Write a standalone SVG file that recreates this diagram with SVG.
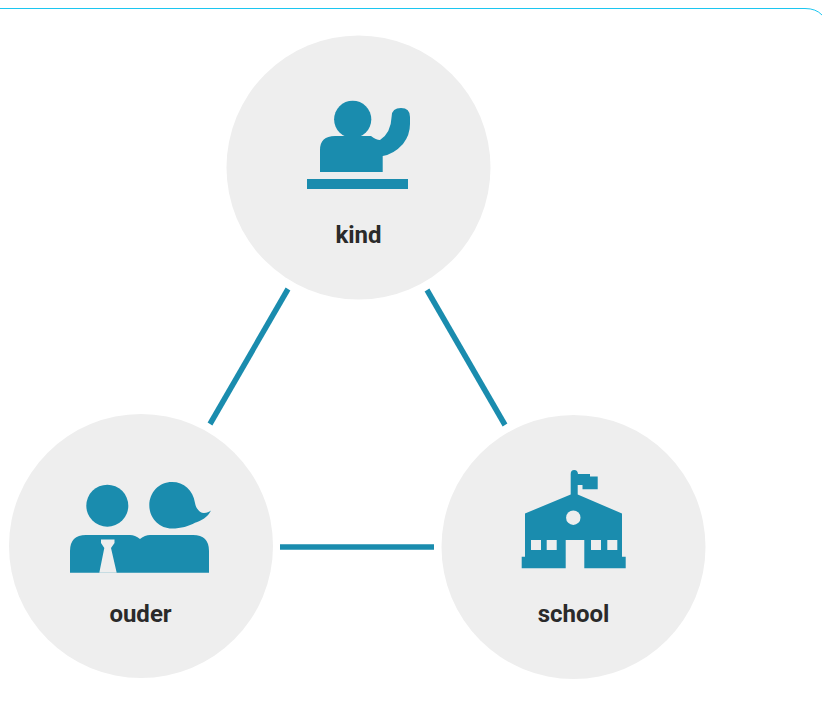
<svg xmlns="http://www.w3.org/2000/svg" width="822" height="701" viewBox="0 0 822 701">
<style>
.bubble{fill:#eeeeee}
.icon{fill:#1a8cae}
.hole{fill:#eeeeee}
.label{font-family:Roboto,"Liberation Sans",sans-serif;font-weight:700;font-size:24px;fill:#2a2a2a;text-anchor:middle}
.link{stroke:#1a8cae;stroke-width:5.500;fill:none}
</style>
<rect width="822" height="701" fill="#ffffff"/>
<path d="M0 8.500H805Q816 8.500 822 15" fill="none" stroke="#1cc6f0" stroke-width="1"/>
<g id="connectors">
<line class="link" x1="288" y1="289" x2="210" y2="424"/>
<line class="link" x1="427" y1="290" x2="505" y2="425"/>
<line class="link" x1="280" y1="547" x2="434" y2="547"/>
</g>
<g id="node-kind">
<circle class="bubble" cx="358.500" cy="167.500" r="132"/>
<circle class="icon" cx="352.700" cy="119.300" r="18.600"/>
<path class="icon" d="M320 172V150Q320 136 335 136H371Q376 140 380 140Q391 133 391.700 116Q392 108 401 108Q410 108 410 117V124Q410 135 403 144Q394 154 382.700 156V172Z"/>
<rect class="icon" x="307" y="179" width="101" height="10"/>
<text class="label" x="358.500" y="243">kind</text>
</g>
<g id="node-ouder">
<circle class="bubble" cx="141" cy="546" r="132"/>
<circle class="icon" cx="107.300" cy="505.700" r="21"/>
<path class="icon" d="M172 482C184 482 193 490 195 503C196 509 200 513 204 513C207 513 209 512 211 510.500C208 517 201 521 195 522.700C189 526 181 528.500 172 528.500C159 528.500 149.300 518 149.300 505.300C149.300 492.500 159 482 172 482Z"/>
<path class="icon" fill-rule="evenodd" d="M70 572.700V551Q70 535 86 535H130Q135 535 140 539Q145 535 150 535H193Q209 535 209 551V572.700Z"/>
<path class="hole" d="M101 539.500H114.500V543L111 548L116.700 572.700H99.300L104.300 548L101 543Z"/>
<text class="label" x="140.500" y="622">ouder</text>
</g>
<g id="node-school">
<circle class="bubble" cx="573.500" cy="547" r="132"/>
<path class="icon" fill-rule="evenodd" d="M570.700 494.500V474Q570.700 470 574.200 470Q577.700 470 578 474H590V476.500H597.700V489.300H582.500V485H577.700V494.500L622 513.500V556.700H625.700V568.300H584.300V540H565.700V568.300H521.700V556.700H525V513.500Z"/>
<circle class="hole" cx="573.300" cy="517.700" r="7.200"/>
<rect class="hole" x="531" y="540" width="10" height="10"/>
<rect class="hole" x="546.700" y="540" width="10" height="10"/>
<rect class="hole" x="591" y="540" width="10" height="10"/>
<rect class="hole" x="607.300" y="540" width="10" height="10"/>
<text class="label" x="573.500" y="622">school</text>
</g>
</svg>
